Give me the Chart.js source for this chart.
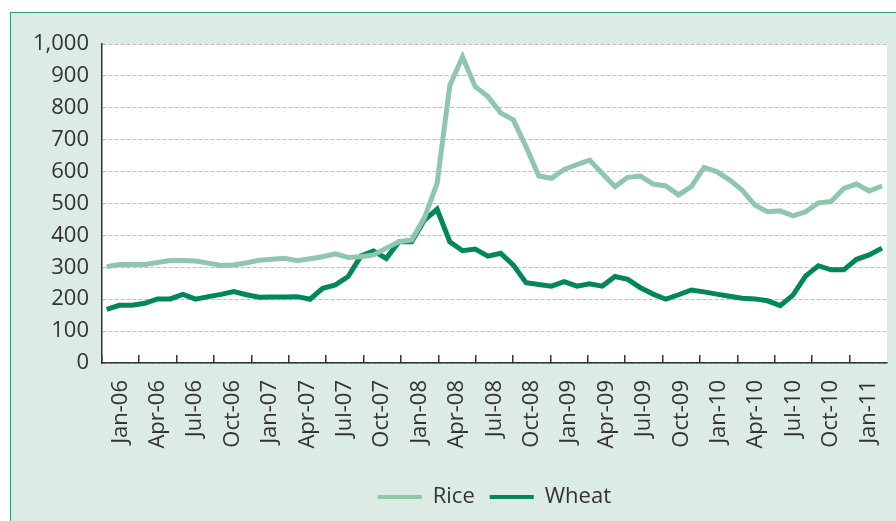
<!DOCTYPE html>
<html>
<head>
<meta charset="utf-8">
<script src="https://cdn.jsdelivr.net/npm/chart.js@4/dist/chart.umd.min.js"></script>
<style>
  html, body { margin: 0; padding: 0; background: #fff; }
  #panel {
    position: absolute; left: 10px; top: 12px;
    width: 886px; height: 509px;
    background: #dcebe4;
    border-left: 1.5px solid #2f9f76;
    border-top: 1.5px solid #2f9f76;
  }
  canvas { display: block; }
</style>
</head>
<body>
<div id="panel"><canvas id="priceChart" width="885" height="508"></canvas></div>
<script>
// Tháng dữ liệu (Jan-06 .. Feb-11)
const months = [
  "Jan-06","Feb-06","Mar-06","Apr-06","May-06","Jun-06","Jul-06","Aug-06","Sep-06","Oct-06","Nov-06","Dec-06",
  "Jan-07","Feb-07","Mar-07","Apr-07","May-07","Jun-07","Jul-07","Aug-07","Sep-07","Oct-07","Nov-07","Dec-07",
  "Jan-08","Feb-08","Mar-08","Apr-08","May-08","Jun-08","Jul-08","Aug-08","Sep-08","Oct-08","Nov-08","Dec-08",
  "Jan-09","Feb-09","Mar-09","Apr-09","May-09","Jun-09","Jul-09","Aug-09","Sep-09","Oct-09","Nov-09","Dec-09",
  "Jan-10","Feb-10","Mar-10","Apr-10","May-10","Jun-10","Jul-10","Aug-10","Sep-10","Oct-10","Nov-10","Dec-10",
  "Jan-11","Feb-11"
];

const rice = [
  302, 309, 309, 309, 315, 321, 321, 320, 313, 306, 307, 314,
  322, 325, 328, 321, 327, 333, 342, 331, 333, 339, 360, 380,
  386, 455, 563, 870, 960, 866, 835, 784, 762, 678, 586, 579,
  607, 622, 636, 594, 553, 582, 586, 561, 555, 527, 553, 613,
  600, 574, 542, 495, 474, 477, 461, 474, 502, 506, 547, 561,
  539, 555
];

const wheat = [
  168, 181, 181, 187, 201, 201, 215, 200, 208, 215, 224, 214,
  206, 207, 207, 208, 200, 234, 245, 271, 335, 351, 328, 380,
  380, 448, 482, 380, 352, 357, 335, 344, 307, 252, 246, 241,
  255, 241, 248, 241, 271, 262, 236, 216, 200, 214, 229, 223,
  216, 209, 203, 201, 195, 180, 213, 273, 305, 292, 292, 325,
  339, 360
];

// Nhãn trục X (mỗi 3 tháng)
const tickLabels = [
  "Jan-06","Apr-06","Jul-06","Oct-06","Jan-07","Apr-07","Jul-07","Oct-07",
  "Jan-08","Apr-08","Jul-08","Oct-08","Jan-09","Apr-09","Jul-09","Oct-09",
  "Jan-10","Apr-10","Jul-10","Oct-10","Jan-11"
];

const seriesNames = ["Rice", "Wheat"];
const yMax = 1000;
const yStep = 100;

const riceColor = "#8fc7ad";
const wheatColor = "#00875a";

// Tô nền trắng cho vùng vẽ
const plotBackground = {
  id: "plotBackground",
  beforeDraw(chart) {
    const { ctx, chartArea: a } = chart;
    ctx.save();
    ctx.fillStyle = "#ffffff";
    ctx.fillRect(a.left, a.top, a.right - a.left, a.bottom - a.top);
    ctx.restore();
  },
};

Chart.defaults.font.family = "'Open Sans', sans-serif";
Chart.defaults.font.size = 22;
Chart.defaults.color = "#333333";

const toPoints = (arr) => arr.map((v, i) => ({ x: i, y: v }));

new Chart(document.getElementById("priceChart"), {
  type: "line",
  data: {
    datasets: [
      {
        label: seriesNames[0],
        data: toPoints(rice),
        borderColor: riceColor,
        backgroundColor: riceColor,
        borderWidth: 5,
        pointRadius: 0,
        tension: 0,
        xAxisID: "xd",
      },
      {
        label: seriesNames[1],
        data: toPoints(wheat),
        borderColor: wheatColor,
        backgroundColor: wheatColor,
        borderWidth: 5,
        pointRadius: 0,
        tension: 0,
        xAxisID: "xd",
      },
    ],
  },
  options: {
    responsive: false,
    animation: false,
    devicePixelRatio: 1,
    layout: { padding: { left: 20, right: 9, top: 31, bottom: 3 } },
    scales: {
      xd: {
        type: "linear",
        display: false,
        min: -0.39,
        max: 61.4,
      },
      x: {
        type: "category",
        labels: tickLabels,
        offset: true,
        grid: {
          display: true,
          offset: true,
          drawOnChartArea: false,
          drawTicks: true,
          tickLength: -8,
          lineWidth: 1.5,
          color: (c) => (c.index < tickLabels.length ? "#333333" : "rgba(0,0,0,0)"),
        },
        border: { display: true, color: "#333333", width: 1.5 },
        ticks: {
          autoSkip: false,
          minRotation: 90,
          maxRotation: 90,
          padding: 25,
        },
        afterFit: (s) => {
          s.height = 108;
          s.paddingLeft = 0;
          s.paddingRight = 0;
        },
      },
      y: {
        min: 0,
        max: yMax,
        grid: {
          color: "#bdbdbd",
          lineWidth: 1,
          drawTicks: false,
        },
        border: { display: true, color: "#333333", width: 1.5, dash: [4, 2] },
        ticks: {
          stepSize: yStep,
          padding: 12.7,
          callback: (v) => v.toLocaleString("en-US"),
        },
        afterFit: (s) => {
          s.width = 70.7;
        },
      },
    },
    plugins: {
      tooltip: { enabled: false },
      legend: {
        position: "bottom",
        fullSize: false,
        labels: {
          boxWidth: 44,
          boxHeight: 4,
          padding: 15,
          generateLabels: (chart) =>
            Chart.defaults.plugins.legend.labels
              .generateLabels(chart)
              .map((l) => ({ ...l, fillStyle: l.strokeStyle, lineWidth: 0 })),
        },
      },
    },
  },
  plugins: [plotBackground],
});
</script>
</body>
</html>
